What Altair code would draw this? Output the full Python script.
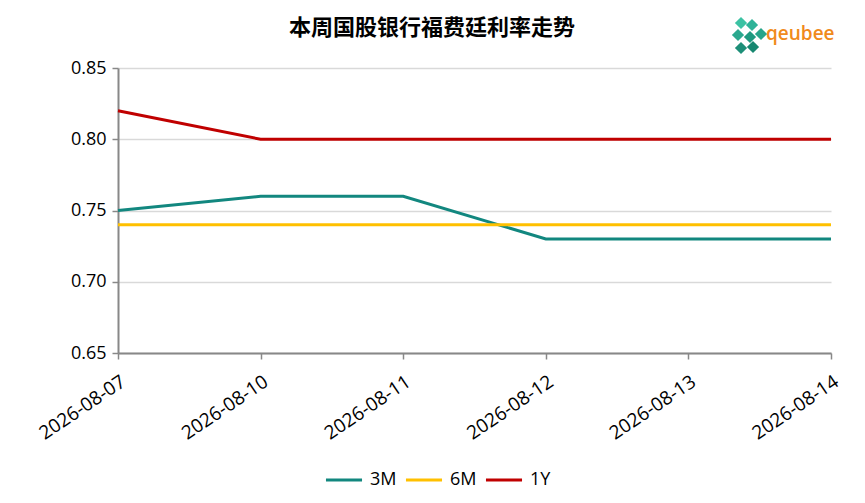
import altair as alt
import pandas as pd

dates = ["2026-08-07", "2026-08-10", "2026-08-11", "2026-08-12", "2026-08-13", "2026-08-14"]
series_names = ["3M", "6M", "1Y"]
rate_3m = [0.75, 0.76, 0.76, 0.73, 0.73, 0.73]
rate_6m = [0.74, 0.74, 0.74, 0.74, 0.74, 0.74]
rate_1y = [0.82, 0.80, 0.80, 0.80, 0.80, 0.80]
colors = ["#12877F", "#FFC000", "#C00000"]
title_text = "本周国股银行福费廷利率走势"

rows = []
for name, vals in zip(series_names, [rate_3m, rate_6m, rate_1y]):
    for d, v in zip(dates, vals):
        rows.append({"date": d, "series": name, "rate": v})
df = pd.DataFrame(rows)

W, H = 713, 285
FONT = "Open Sans"

lines = alt.Chart(df).mark_line(strokeWidth=3).encode(
    x=alt.X("date:O", sort=dates, scale=alt.Scale(type="point", padding=0),
            axis=alt.Axis(title=None, labelAngle=326, labelAlign="right", labelBaseline="top",
                          labelFontSize=19, labelColor="#000", labelFont=FONT, labelPadding=13,
                          domainColor="#888", domainWidth=2, tickColor="#888", tickSize=6,
                          tickWidth=1.5, grid=False)),
    y=alt.Y("rate:Q", scale=alt.Scale(domain=[0.65, 0.85], nice=False, zero=False),
            axis=alt.Axis(title=None, values=[0.65, 0.70, 0.75, 0.80, 0.85], format=".2f",
                          labelFontSize=18, labelColor="#000", labelFont=FONT, labelPadding=6,
                          domainColor="#888", domainWidth=2, tickColor="#888", tickSize=6,
                          tickWidth=1.5, gridColor="#d9d9d9", gridWidth=1.5)),
    color=alt.Color("series:N", sort=series_names,
                    scale=alt.Scale(domain=series_names, range=colors),
                    legend=alt.Legend(title=None, orient="none", direction="horizontal",
                                      legendX=206, legendY=392, symbolType="stroke",
                                      symbolSize=1300, symbolStrokeWidth=3,
                                      labelFontSize=18, labelFont=FONT, labelColor="#000",
                                      columnPadding=2, symbolOffset=0, labelOffset=6)),
)

title = alt.Chart(pd.DataFrame({"t": [title_text]})).mark_text(
    font="Noto Sans CJK SC", fontSize=22, fontWeight="bold", color="#000", align="center", baseline="middle"
).encode(x=alt.value(314), y=alt.value(-40), text="t:N")

logo_text = alt.Chart(pd.DataFrame({"t": ["qeubee"]})).mark_text(
    font=FONT, fontSize=19, fontWeight=600, color="#F08A1C", align="left", baseline="middle"
).encode(x=alt.value(648), y=alt.value(-34), text="t:N")

cube_offsets = [(-7, -45, "#3CC2A3"), (4, -43, "#2FB398"), (-10, -33, "#2BA88E"),
                (2, -31, "#1F9A80"), (13, -34, "#27A58A"), (-7, -20, "#1D8F78"), (5, -21, "#178770")]
cubes = []
for cx, cy, col in cube_offsets:
    cubes.append(alt.Chart(pd.DataFrame({"a": [0]})).mark_point(
        shape="diamond", filled=True, size=150, color=col, opacity=1
    ).encode(x=alt.value(630 + cx), y=alt.value(cy)))

chart = alt.layer(lines, title, logo_text, *cubes).properties(
    width=W, height=H,
    autosize=alt.AutoSizeParams(type="none"),
    padding={"left": 110, "top": 60, "right": 26, "bottom": 142},
).configure_view(stroke=None)

chart.save("out.html", embed_options={"renderer": "svg", "actions": False})
